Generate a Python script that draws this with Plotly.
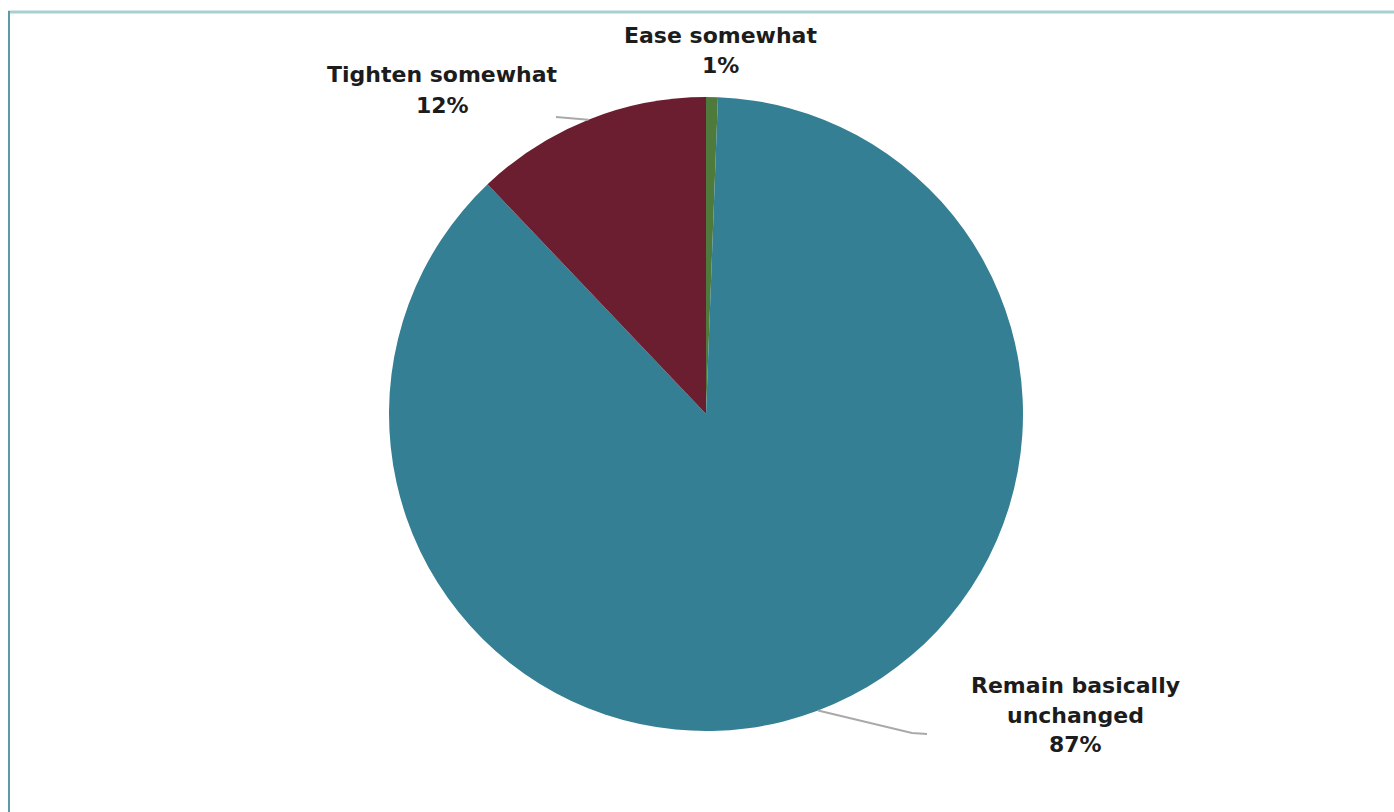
import math
import plotly.graph_objects as go

# ---- data ----
labels = ["Ease somewhat", "Remain basically unchanged", "Tighten somewhat"]
values = [0.6, 87.3, 12.1]
colors = ["#4e7b3c", "#347f93", "#6c1e31"]
label_lines = [["Ease somewhat"], ["Remain basically", "unchanged"], ["Tighten somewhat"]]

W, H = 1394, 812
CX, CY, R = 706, 414, 317  # pie center / radius in pixels

def px(x):
    return x / W

def py(y):
    return 1 - y / H

fig = go.Figure()
fig.add_trace(go.Pie(
    labels=labels, values=values, sort=False, direction="clockwise", rotation=0,
    marker=dict(colors=colors, line=dict(width=0)),
    textinfo="none", hoverinfo="label+percent", showlegend=False,
    domain=dict(x=[px(CX - R), px(CX + R)], y=[py(CY + R), py(CY - R)]),
))

FS = 22
FONT = dict(family="DejaVu Sans", size=FS, color="#1c1c1c")
total = sum(values)

# label placement (pixel positions of text line baselines)
label_pos = {
    0: (720, [43, 73]),
    1: (1075, [693, 723, 752]),
    2: (442, [82, 113]),
}
leader_ends = {
    1: [(912, 733), (927, 734)],
    2: [(556, 117)],
}

cum = 0
for i, v in enumerate(values):
    mid = (cum + v / 2) / total * 2 * math.pi
    cum += v
    pct = f"{round(v / total * 100)}%"
    lines = label_lines[i] + [pct]
    xc, bases = label_pos[i]
    for t, b in zip(lines, bases):
        fig.add_annotation(x=px(xc), y=py(b - 0.36 * FS), xref="paper", yref="paper",
                           text=f"<b>{t}</b>", showarrow=False, font=FONT,
                           xanchor="center", yanchor="middle")
    if i in leader_ends:
        ex = CX + R * math.sin(mid)
        ey = CY - R * math.cos(mid)
        pts = [(ex, ey)] + leader_ends[i]
        path = "M " + " L ".join(f"{px(a)},{py(b)}" for a, b in pts)
        fig.add_shape(type="path", path=path, xref="paper", yref="paper",
                      line=dict(color="#a9a9a9", width=2))

# frame lines
fig.add_shape(type="line", xref="paper", yref="paper", x0=px(8), x1=1, y0=py(12), y1=py(12),
              line=dict(color="#a8d0d2", width=3))
fig.add_shape(type="line", xref="paper", yref="paper", x0=px(9), x1=px(9), y0=py(11), y1=0,
              line=dict(color="#5a9ca1", width=2))

fig.update_layout(width=W, height=H, margin=dict(l=0, r=0, t=0, b=0),
                  paper_bgcolor="white", plot_bgcolor="white")
fig.write_html("out.html")
